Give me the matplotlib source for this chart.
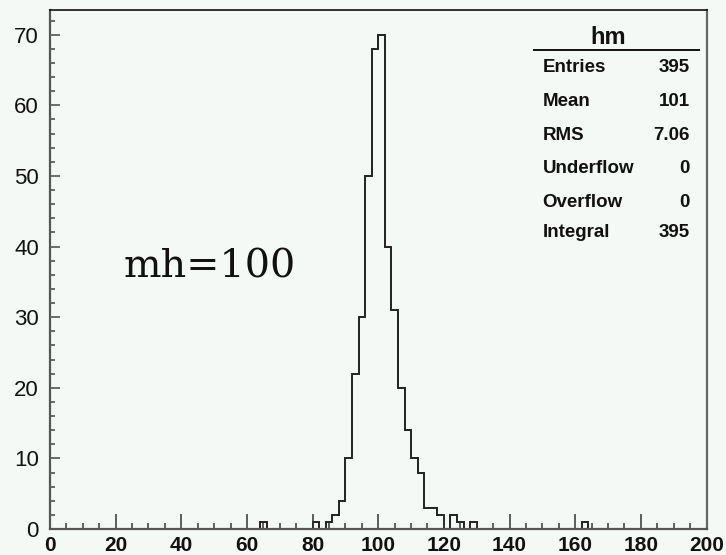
import numpy as np
import matplotlib
matplotlib.use("Agg")
import matplotlib.pyplot as plt
from matplotlib.ticker import MultipleLocator

# ---- data ----
bin_width = 2
x_range = [0, 200]
# lower edges of the non-empty bins and their counts
bin_low = [64, 80, 84, 86, 88, 90, 92, 94, 96, 98, 100, 102, 104, 106, 108,
           110, 112, 114, 116, 118, 122, 124, 128, 162]
bin_counts = [1, 1, 1, 2, 4, 10, 22, 30, 50, 68, 70, 40, 31, 20, 14,
              10, 8, 3, 3, 2, 2, 1, 1, 1]
hist_name = "hm"
stat_labels = ["Entries", "Mean", "RMS", "Underflow", "Overflow", "Integral"]
stat_values = ["395", "101", "7.06", "0", "0", "395"]
annotation = "mh=100"
x_ticks = [0, 20, 40, 60, 80, 100, 120, 140, 160, 180, 200]
y_ticks = [0, 10, 20, 30, 40, 50, 60, 70]

edges = np.arange(x_range[0], x_range[1] + bin_width, bin_width)
counts = np.zeros(len(edges) - 1)
for lo, c in zip(bin_low, bin_counts):
    counts[int((lo - x_range[0]) // bin_width)] = c

# ---- figure ----
W, H = 726, 555
bg = "#f4f9f6"
fig = plt.figure(figsize=(W / 100, H / 100), dpi=100, facecolor=bg)
left, right, top, bottom = 50, 706.5, 10, 529
ax = fig.add_axes([left / W, 1 - bottom / H, (right - left) / W, (bottom - top) / H])
ax.set_facecolor(bg)

ax.stairs(counts, edges, color="#222222", linewidth=1.4, baseline=0)

ax.set_xlim(x_range)
ax.set_ylim(0, max(bin_counts) * 1.05)

ax.set_xticks(x_ticks)
ax.set_yticks(y_ticks)
ax.xaxis.set_minor_locator(MultipleLocator(5))
ax.yaxis.set_minor_locator(MultipleLocator(2))
ax.tick_params(axis="x", which="major", direction="in", length=11, width=1.1,
               color="#333333", pad=5)
ax.tick_params(axis="x", which="minor", direction="in", length=4.5, width=1.1,
               color="#333333")
ax.tick_params(axis="y", which="major", direction="in", length=7.2, width=1.1,
               color="#444444", pad=8)
ax.tick_params(axis="y", which="minor", direction="in", length=3.6, width=1.1,
               color="#444444")

for lbl in ax.get_xticklabels():
    lbl.set_fontfamily("Liberation Sans")
    lbl.set_fontweight("bold")
    lbl.set_fontsize(15)
    lbl.set_color("#111111")
for lbl in ax.get_yticklabels():
    lbl.set_fontfamily("Liberation Sans")
    lbl.set_fontsize(16)
    lbl.set_color("#111111")

for side in ["left", "bottom"]:
    ax.spines[side].set_color("#555555")
    ax.spines[side].set_linewidth(1.6)
ax.spines["top"].set_color("#111111")
ax.spines["top"].set_linewidth(1.2)
ax.spines["right"].set_color("#666666")
ax.spines["right"].set_linewidth(1.6)

# annotation
fig.text(124 / W, 1 - 277 / H, annotation, family="DejaVu Serif", fontsize=28.5,
         ha="left", va="baseline", color="#111111")

# stats box
fig.text(608 / W, 1 - 37 / H, hist_name, family="Liberation Sans",
         fontweight="bold", fontsize=17, ha="center", va="center", color="#111111")
fig.add_artist(plt.Line2D([534 / W, 699 / W], [1 - 50 / H, 1 - 50 / H],
                          color="#111111", linewidth=1.4))
row_y = [68, 101.5, 135, 168.5, 202, 233]
for lab, val, yy in zip(stat_labels, stat_values, row_y):
    fig.text(542.5 / W, 1 - yy / H, lab, family="Liberation Sans",
             fontweight="bold", fontsize=13.5, ha="left", va="center", color="#111111")
    fig.text(690 / W, 1 - yy / H, val, family="Liberation Sans",
             fontweight="bold", fontsize=13.5, ha="right", va="center", color="#111111")

fig.savefig("out.png", dpi=100, facecolor=bg)
